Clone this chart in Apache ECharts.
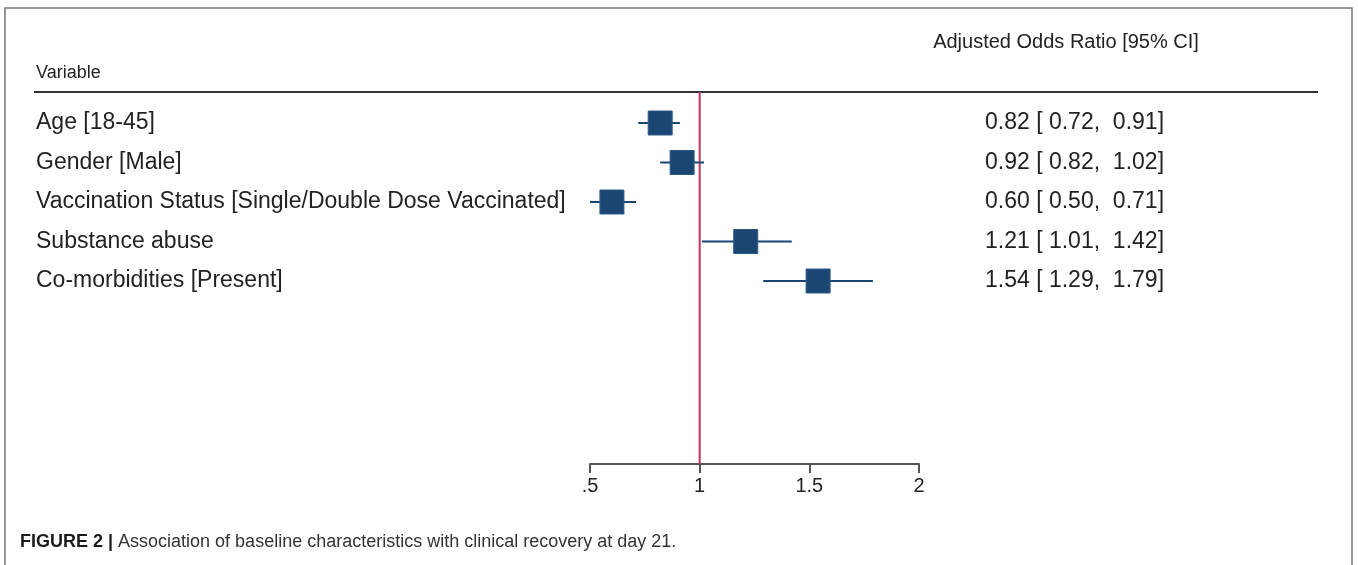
<!DOCTYPE html>
<html>
<head>
<meta charset="utf-8">
<script src="https://cdn.jsdelivr.net/npm/echarts@6/dist/echarts.min.js"></script>
<style>
html,body{margin:0;padding:0;background:#fff;}
#chart{width:1358px;height:565px;}
</style>
</head>
<body>
<div id="chart"></div>
<script>
// ---- data ----
const variables = ['Age [18-45]', 'Gender [Male]', 'Vaccination Status [Single/Double Dose Vaccinated]', 'Substance abuse', 'Co-morbidities [Present]'];
const oddsRatio = [0.82, 0.92, 0.60, 1.21, 1.54];
const ciLower = [0.72, 0.82, 0.50, 1.01, 1.29];
const ciUpper = [0.91, 1.02, 0.71, 1.42, 1.79];
const xTicks = [0.5, 1, 1.5, 2];
const xTickLabels = ['.5', '1', '1.5', '2'];
const refValue = 1;
const leftHeader = 'Variable';
const rightHeader = 'Adjusted Odds Ratio [95% CI]';
const captionBold = 'FIGURE 2 |';
const captionText = ' Association of baseline characteristics with clinical recovery at day 21.';

// ---- layout ----
const FONT = '"Liberation Sans", Arial, Helvetica, sans-serif';
const plotLeft = 590, plotWidth = 329;
const ruleY = 92, axisY = 464;
const rowTop = 123, rowStep = 39.5;
const navy = '#1b4674';
const crimson = '#c2345a';
const rowFont = 23;

const fmt = v => v.toFixed(2);
const rightTexts = oddsRatio.map((v, i) => fmt(v) + ' [ ' + fmt(ciLower[i]) + ',  ' + fmt(ciUpper[i]) + ']');

const chart = echarts.init(document.getElementById('chart'), null, {renderer: 'canvas'});
const xMin = xTicks[0], xMax = xTicks[xTicks.length - 1], xInt = xTicks[1] - xTicks[0];

const option = {
  animation: false,
  backgroundColor: '#fff',
  grid: [
    {left: plotLeft, width: plotWidth, top: ruleY, height: axisY - ruleY},
    {left: plotLeft, width: plotWidth, top: rowTop - rowStep / 2, height: rowStep * variables.length}
  ],
  xAxis: [
    {
      gridIndex: 0, type: 'value', min: xMin, max: xMax, interval: xInt,
      position: 'bottom',
      axisLine: {show: true, lineStyle: {color: '#555', width: 2}},
      axisTick: {show: true, length: 9, inside: false, lineStyle: {color: '#555', width: 2}},
      axisLabel: {
        show: true, margin: 12, fontSize: 20, color: '#222', fontFamily: FONT,
        formatter: v => { const k = xTicks.findIndex(t => Math.abs(t - v) < 1e-9); return k >= 0 ? xTickLabels[k] : ''; }
      },
      splitLine: {show: false}
    },
    {
      gridIndex: 1, type: 'value', min: xMin, max: xMax,
      show: false
    }
  ],
  yAxis: [
    {gridIndex: 0, type: 'value', min: 0, max: 1, show: false},
    {
      gridIndex: 1, type: 'category', data: variables, inverse: true,
      position: 'left',
      axisLine: {show: false}, axisTick: {show: false}, splitLine: {show: false},
      axisLabel: {show: true, align: 'left', margin: plotLeft - 36, fontSize: rowFont, color: '#222', fontFamily: FONT, interval: 0}
    },
    {
      gridIndex: 1, type: 'category', data: rightTexts, inverse: true,
      position: 'right',
      axisLine: {show: false}, axisTick: {show: false}, splitLine: {show: false},
      axisLabel: {show: true, align: 'left', margin: 985 - (plotLeft + plotWidth), fontSize: rowFont, color: '#222', fontFamily: FONT, interval: 0}
    }
  ],
  series: [
    {
      type: 'line', xAxisIndex: 0, yAxisIndex: 0,
      data: [[refValue, 0], [refValue, 1]],
      symbol: 'none', lineStyle: {color: crimson, width: 2}, z: 1, silent: true
    },
    {
      type: 'custom', xAxisIndex: 1, yAxisIndex: 1,
      data: variables.map((_, i) => [ciLower[i], i, ciUpper[i]]),
      encode: {x: [0, 2], y: 1},
      renderItem: (params, api) => {
        const a = api.coord([api.value(0), api.value(1)]);
        const b = api.coord([api.value(2), api.value(1)]);
        return {type: 'line', shape: {x1: a[0], y1: a[1], x2: b[0], y2: b[1]}, style: {stroke: navy, lineWidth: 2}};
      },
      z: 2, silent: true
    },
    {
      type: 'scatter', xAxisIndex: 1, yAxisIndex: 1,
      data: oddsRatio.map((v, i) => [v, i]),
      symbol: 'rect', symbolSize: 24,
      itemStyle: {color: navy, borderColor: '#2c5a88', borderWidth: 1, opacity: 1},
      z: 3, silent: true
    }
  ],
  graphic: [
    {type: 'rect', shape: {x: 5, y: 8, width: 1347, height: 600}, style: {fill: null, stroke: '#777', lineWidth: 1.5}, silent: true},
    {type: 'line', shape: {x1: 34, y1: ruleY, x2: 1318, y2: ruleY}, style: {stroke: '#333', lineWidth: 2}, silent: true},
    {type: 'text', x: 36, y: 73, style: {text: leftHeader, font: '18px ' + FONT, fill: '#222', textVerticalAlign: 'middle'}, silent: true},
    {type: 'text', x: 1066, y: 42, style: {text: rightHeader, font: '20px ' + FONT, fill: '#222', textAlign: 'center', textVerticalAlign: 'middle'}, silent: true},
    {type: 'text', x: 20, y: 542, style: {
      text: '{b|' + captionBold + '}{r|' + captionText + '}',
      textVerticalAlign: 'middle',
      rich: {
        b: {fontFamily: FONT, fontWeight: 'bold', fontSize: 18, fill: '#1a1a1a', color: '#1a1a1a'},
        r: {fontFamily: FONT, fontSize: 18, fill: '#333', color: '#333'}
      }
    }, silent: true}
  ]
};
chart.setOption(option);
</script>
</body>
</html>
